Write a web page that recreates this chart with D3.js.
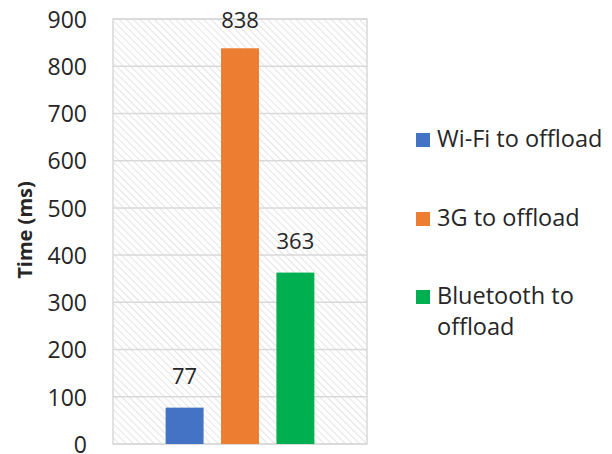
<!DOCTYPE html>
<html>
<head>
<meta charset="utf-8">
<script src="https://cdn.jsdelivr.net/npm/d3@7"></script>
<style>
  html, body { margin: 0; padding: 0; background: #fff; }
  svg { display: block; font-family: "Open Sans", "DejaVu Sans", sans-serif; }
</style>
</head>
<body>
<svg id="chart" width="612" height="454"></svg>
<script>
// Offloading transfer time by network type
const seriesNames = ["Wi-Fi to offload", "3G to offload", "Bluetooth to offload"];
const seriesValues = [77, 838, 363];
const seriesColors = ["#4472c4", "#ed7d31", "#00b050"];
const yTicks = [0, 100, 200, 300, 400, 500, 600, 700, 800, 900];
const legendLines = [["Wi-Fi to offload"], ["3G to offload"], ["Bluetooth to", "offload"]];

const svg = d3.select("#chart");
const plot = { left: 113, top: 19, right: 367, bottom: 444 };
const textColor = "#262626";

// Diagonal hatch fill for the plot background
const defs = svg.append("defs");
const pat = defs.append("pattern")
  .attr("id", "hatch")
  .attr("patternUnits", "userSpaceOnUse")
  .attr("width", 5).attr("height", 5)
  .attr("patternTransform", "rotate(-45)");
pat.append("rect").attr("width", 5).attr("height", 5).attr("fill", "#ffffff");
pat.append("line")
  .attr("x1", 0).attr("y1", 0).attr("x2", 0).attr("y2", 5)
  .attr("stroke", "#dcdcdc").attr("stroke-width", 1.5);

const y = d3.scaleLinear().domain([0, 900]).range([plot.bottom, plot.top]);
const x = d3.scaleBand()
  .domain(seriesNames)
  .range([plot.left, plot.right])
  .paddingInner(0.315)
  .paddingOuter(0.95);

svg.append("rect")
  .attr("x", plot.left).attr("y", plot.top)
  .attr("width", plot.right - plot.left).attr("height", plot.bottom - plot.top)
  .attr("fill", "url(#hatch)");

// Gridlines
svg.append("g")
  .selectAll("line")
  .data(yTicks)
  .join("line")
  .attr("x1", plot.left).attr("x2", plot.right)
  .attr("y1", d => y(d)).attr("y2", d => y(d))
  .attr("stroke", "#d9d9d9").attr("stroke-width", 1.5);

// Plot border
svg.append("rect")
  .attr("x", plot.left).attr("y", plot.top)
  .attr("width", plot.right - plot.left).attr("height", plot.bottom - plot.top)
  .attr("fill", "none").attr("stroke", "#d9d9d9").attr("stroke-width", 1.5);

// Y axis tick labels
const yAxis = d3.axisLeft(y).tickValues(yTicks).tickSize(0).tickPadding(0);
const gy = svg.append("g").attr("transform", `translate(87,0)`).call(yAxis);
gy.select(".domain").remove();
gy.selectAll("text")
  .attr("font-size", 23)
  .attr("font-family", "'Open Sans', sans-serif")
  .attr("fill", textColor)
  .attr("dy", "0.36em");

// Y axis title
svg.append("text")
  .attr("transform", `translate(32,230) rotate(-90)`)
  .attr("text-anchor", "middle")
  .attr("font-size", 20)
  .attr("font-weight", "bold")
  .attr("fill", textColor)
  .text("Time (ms)");

// Bars
const data = seriesNames.map((name, i) => ({ name, value: seriesValues[i], color: seriesColors[i] }));
svg.append("g")
  .selectAll("rect")
  .data(data)
  .join("rect")
  .attr("x", d => x(d.name))
  .attr("width", x.bandwidth())
  .attr("y", d => y(d.value))
  .attr("height", d => y(0) - y(d.value))
  .attr("fill", d => d.color);

// Value labels (kept inside the chart area at the top)
svg.append("g")
  .selectAll("text")
  .data(data)
  .join("text")
  .attr("x", d => x(d.name) + x.bandwidth() / 2)
  .attr("y", d => Math.max(y(d.value) - 24, 28))
  .attr("text-anchor", "middle")
  .attr("font-size", 22)
  .attr("fill", textColor)
  .text(d => d.value);

// Legend
const legendBaseline = [147, 226, 304];
const legend = svg.append("g");
data.forEach((d, i) => {
  legend.append("rect")
    .attr("x", 416).attr("y", legendBaseline[i] - 14)
    .attr("width", 14).attr("height", 14)
    .attr("fill", d.color);
  const t = legend.append("text")
    .attr("x", 437).attr("y", legendBaseline[i])
    .attr("font-size", 23.5)
    .attr("fill", textColor);
  legendLines[i].forEach((line, j) => {
    t.append("tspan")
      .attr("x", 437)
      .attr("dy", j === 0 ? 0 : 31)
      .text(line);
  });
});
</script>
</body>
</html>
